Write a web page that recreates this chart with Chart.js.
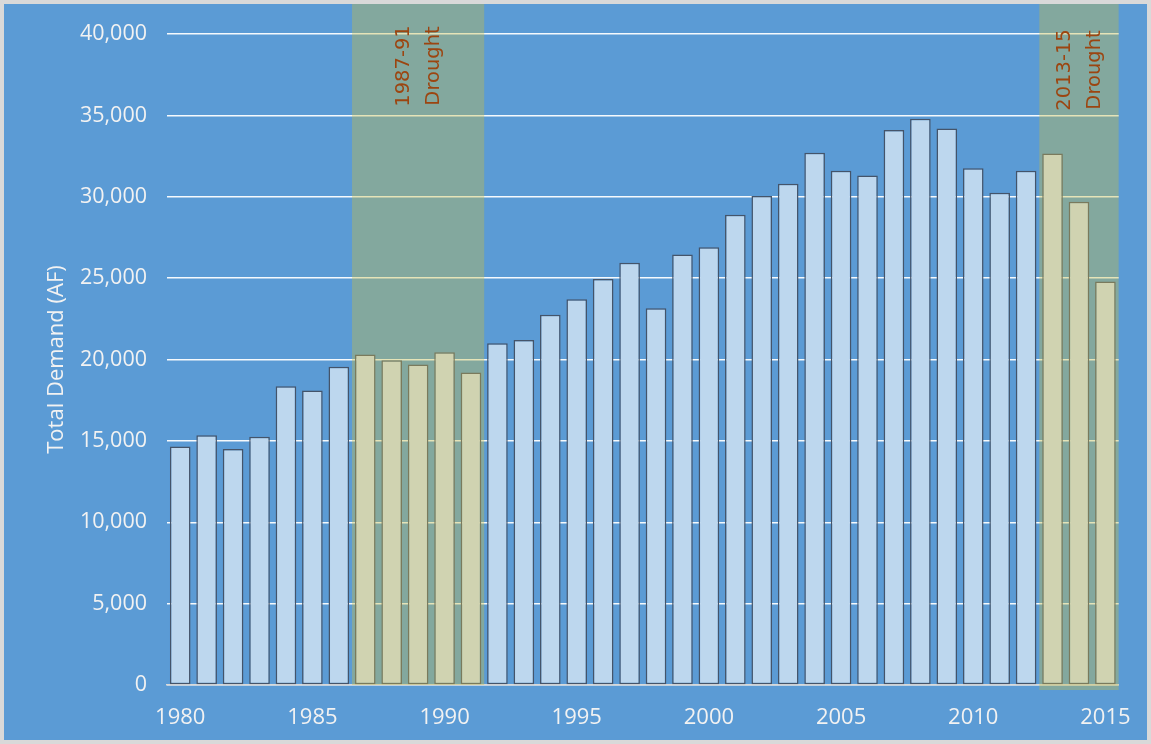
<!DOCTYPE html>
<html lang="en">
<head>
  <meta charset="UTF-8" />
  <title>Total Demand</title>
  <script src="https://cdn.jsdelivr.net/npm/chart.js@4"></script>
  <style>
    * {
      box-sizing: border-box;
    }
    html, body {
      margin: 0;
      padding: 0;
      background: #d9d9d9;
      overflow: hidden;
    }
    #chart {
      display: block;
    }
  </style>
</head>
<body>
  <canvas id="chart" width="1151" height="744"></canvas>

<script>
  const years = [
    1980, 1981, 1982, 1983, 1984, 1985, 1986, 1987, 1988, 1989,
    1990, 1991, 1992, 1993, 1994, 1995, 1996, 1997, 1998, 1999,
    2000, 2001, 2002, 2003, 2004, 2005, 2006, 2007, 2008, 2009,
    2010, 2011, 2012, 2013, 2014, 2015
  ];
  const demand = [
    14650, 15350, 14500, 15250, 18350, 18100, 19550, 20300, 19950, 19700,
    20450, 19200, 21000, 21200, 22750, 23700, 24950, 25950, 23150, 26450,
    26900, 28900, 30050, 30800, 32700, 31600, 31300, 34100, 34800, 34200,
    31750, 30250, 31600, 32650, 29700, 24800
  ];
  const yTicks = [0, 5000, 10000, 15000, 20000, 25000, 30000, 35000, 40000];
  const droughtStart = [1987, 2013];
  const droughtEnd = [1991, 2015];
  const droughtLabels = [['1987-91', 'Drought'], ['2013-15', 'Drought']];

  function inDrought(year) {
    return droughtStart.some((s, i) => year >= s && year <= droughtEnd[i]);
  }

  // blue panel with light grey frame
  const backdrop = {
    id: 'backdrop',
    beforeDraw(chart) {
      const ctx = chart.ctx;
      ctx.save();
      ctx.fillStyle = '#d9d9d9';
      ctx.fillRect(0, 0, chart.width, chart.height);
      ctx.fillStyle = '#5b9bd5';
      ctx.fillRect(4, 4, chart.width - 8, chart.height - 8);
      ctx.restore();
    }
  };

  // translucent drought bands over the grid, under the bars
  const droughts = {
    id: 'droughts',
    beforeDatasetsDraw(chart) {
      const ctx = chart.ctx;
      const x = chart.scales.x;
      const half = (x.getPixelForValue(1) - x.getPixelForValue(0)) / 2;
      const bottom = chart.chartArea.bottom;
      ctx.save();
      for (let i = 0; i < droughtStart.length; i++) {
        const left = x.getPixelForValue(years.indexOf(droughtStart[i])) - half;
        const right = x.getPixelForValue(years.indexOf(droughtEnd[i])) + half;
        const low = i === droughtStart.length - 1 ? bottom + 5 : bottom;
        ctx.fillStyle = 'rgba(202, 190, 64, 0.37)';
        ctx.fillRect(left, 4, right - left, low - 4);
      }
      ctx.restore();
    },
    afterDatasetsDraw(chart) {
      const ctx = chart.ctx;
      const x = chart.scales.x;
      const half = (x.getPixelForValue(1) - x.getPixelForValue(0)) / 2;
      ctx.save();
      ctx.fillStyle = '#9c4510';
      ctx.font = '19.5px "DejaVu Sans"';
      ctx.textAlign = 'center';
      ctx.textBaseline = 'middle';
      for (let i = 0; i < droughtStart.length; i++) {
        const left = x.getPixelForValue(years.indexOf(droughtStart[i])) - half;
        const right = x.getPixelForValue(years.indexOf(droughtEnd[i])) + half;
        const cx = (left + right) / 2;
        const cy = i === 0 ? 66 : 70;
        droughtLabels[i].forEach((line, k) => {
          ctx.save();
          ctx.translate(cx - 14 + k * 30, cy);
          ctx.rotate(-Math.PI / 2);
          ctx.fillText(line, 0, 0);
          ctx.restore();
        });
      }
      ctx.restore();
    }
  };

  const ctx = document.getElementById('chart').getContext('2d');
  new Chart(ctx, {
    type: 'bar',
    data: {
      labels: years,
      datasets: [{
        label: 'Total Demand (AF)',
        data: demand,
        backgroundColor: years.map(y => inDrought(y) ? '#d0d3b1' : '#bdd7ee'),
        borderColor: years.map(y => inDrought(y) ? '#7a7a5c' : '#44546a'),
        borderWidth: 1.5,
        borderSkipped: false,
        barPercentage: 0.78,
        categoryPercentage: 1
      }]
    },
    options: {
      responsive: false,
      animation: false,
      devicePixelRatio: 1,
      layout: {
        padding: { top: 34, right: 31, bottom: 0, left: 0 }
      },
      plugins: {
        legend: { display: false },
        tooltip: { enabled: false }
      },
      scales: {
        x: {
          grid: { display: false, drawTicks: false },
          border: { color: '#d9d9d9', width: 1.5 },
          ticks: {
            autoSkip: false,
            maxRotation: 0,
            padding: 20,
            color: '#f2f2f2',
            font: { family: '"Open Sans"', size: 22 },
            callback: (v, i) => years[i] % 5 === 0 ? String(years[i]) : ''
          },
          afterFit: scale => { scale.height = 59; }
        },
        y: {
          min: 0,
          max: 40000,
          afterBuildTicks: scale => {
            scale.ticks = yTicks.map(v => ({ value: v }));
          },
          grid: { color: 'rgba(255,255,255,0.95)', lineWidth: 1.5, drawTicks: false },
          border: { display: false },
          ticks: {
            padding: 20,
            color: '#f2f2f2',
            font: { family: '"Open Sans"', size: 21.5 },
            callback: v => v.toLocaleString('en-US')
          },
          title: {
            display: true,
            text: 'Total Demand (AF)',
            color: '#f2f2f2',
            font: { family: '"Open Sans"', size: 22 },
            padding: { top: 44, bottom: 0 }
          },
          afterFit: scale => { scale.width = 167; }
        }
      }
    },
    plugins: [backdrop, droughts]
  });
</script>
</body>
</html>
